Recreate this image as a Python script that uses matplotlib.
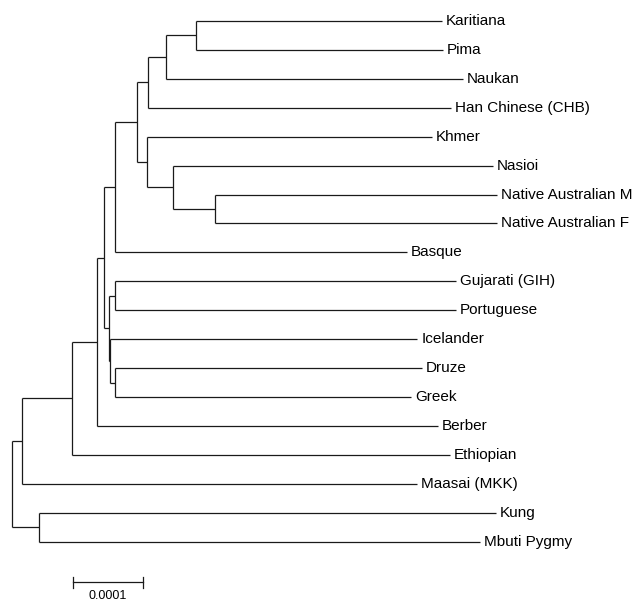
import matplotlib
matplotlib.use('Agg')
import matplotlib.pyplot as plt

# distances from the root, in units of 0.0001 (scale bar length)
UNIT = 0.0001

leaf_names = ['Karitiana', 'Pima', 'Naukan', 'Han Chinese (CHB)', 'Khmer', 'Nasioi',
              'Native Australian M', 'Native Australian F', 'Basque', 'Gujarati (GIH)',
              'Portuguese', 'Icelander', 'Druze', 'Greek', 'Berber', 'Ethiopian',
              'Maasai (MKK)', 'Kung', 'Mbuti Pygmy']
leaf_depths = [6.112, 6.127, 6.415, 6.240, 5.970, 6.842,
               6.895, 6.895, 5.619, 6.316,
               6.316, 5.761, 5.832, 5.671, 6.060, 6.230,
               5.757, 6.885, 6.657]

# internal nodes: name -> (children), depth
node_names = ['KP', 'KPN', 'AMR', 'NA', 'NAS', 'KHM', 'EA', 'BAS',
              'GP', 'DG', 'IDG', 'EUR', 'EURAS', 'BER', 'ETH', 'MAA', 'KM', 'root']
node_children = [('Karitiana', 'Pima'), ('KP', 'Naukan'), ('KPN', 'Han Chinese (CHB)'),
                 ('Native Australian M', 'Native Australian F'), ('Nasioi', 'NA'),
                 ('Khmer', 'NAS'), ('AMR', 'KHM'), ('EA', 'Basque'),
                 ('Gujarati (GIH)', 'Portuguese'), ('Druze', 'Greek'), ('Icelander', 'DG'),
                 ('GP', 'IDG'), ('BAS', 'EUR'), ('EURAS', 'Berber'), ('BER', 'Ethiopian'),
                 ('ETH', 'Maasai (MKK)'), ('Kung', 'Mbuti Pygmy'), ('MAA', 'KM')]
node_depths = [2.613, 2.186, 1.930, 2.888, 2.294, 1.920, 1.782, 1.461,
               1.469, 1.469, 1.398, 1.384, 1.309, 1.205, 0.849, 0.142, 0.380, 0.0]

scale_label = '0.0001'

xpos = {}
ypos = {}
for i, name in enumerate(leaf_names):
    xpos[name] = leaf_depths[i] * UNIT
    ypos[name] = i
children = {}
for name, ch, d in zip(node_names, node_children, node_depths):
    xpos[name] = d * UNIT
    children[name] = ch

def get_y(name):
    if name not in ypos:
        ypos[name] = sum(get_y(c) for c in children[name]) / len(children[name])
    return ypos[name]

get_y('root')

plt.rcParams['font.family'] = ['Liberation Sans', 'DejaVu Sans']
fig = plt.figure(figsize=(6.35, 6.01), dpi=100)
ax = fig.add_axes([0, 0, 1, 1])
lc = '#1a1a1a'
lw = 0.9

for name in node_names:
    ch = children[name]
    ys = [ypos[c] for c in ch]
    ax.plot([xpos[name], xpos[name]], [min(ys), max(ys)], color=lc, lw=lw, solid_capstyle='butt')
    for c in ch:
        ax.plot([xpos[name], xpos[c]], [ypos[c], ypos[c]], color=lc, lw=lw, solid_capstyle='butt')

for name in leaf_names:
    ax.annotate(name, (xpos[name], ypos[name]), xytext=(3, 0), textcoords='offset points',
                ha='left', va='center', fontsize=11, color='black')

# scale bar
sb_x = 0.863 * UNIT
sb_y = 19.41
ax.plot([sb_x, sb_x + UNIT], [sb_y, sb_y], color=lc, lw=lw)
ax.plot([sb_x, sb_x], [sb_y - 0.18, sb_y + 0.18], color=lc, lw=lw)
ax.plot([sb_x + UNIT, sb_x + UNIT], [sb_y - 0.18, sb_y + 0.18], color=lc, lw=lw)
ax.text(sb_x + UNIT / 2, sb_y + 0.45, scale_label, ha='center', va='center', fontsize=9)

ax.set_xlim(-0.1707 * UNIT, 8.862 * UNIT)
ax.set_ylim(20.05, -0.726)
ax.axis('off')

plt.savefig('out.png', dpi=100)
